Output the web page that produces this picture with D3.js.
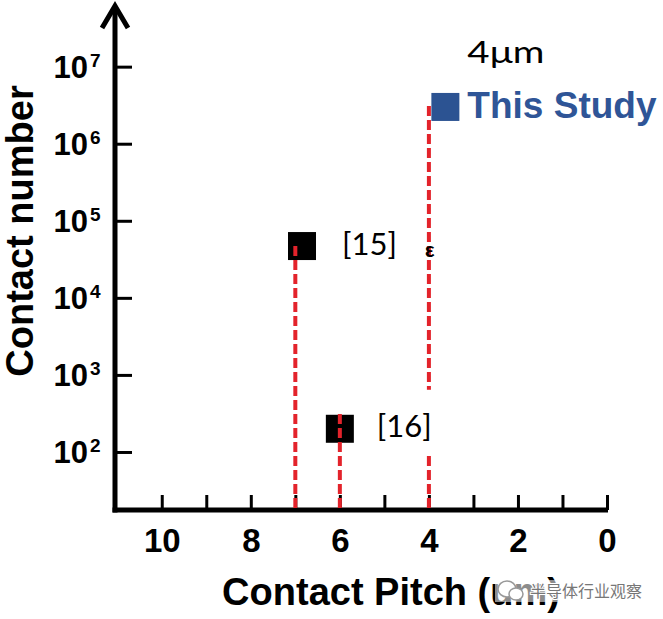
<!DOCTYPE html>
<html>
<head>
<meta charset="utf-8">
<script src="https://cdn.jsdelivr.net/npm/d3@7"></script>
<style>
  body { margin: 0; background: #fff; }
  svg { display: block; }
</style>
</head>
<body>
<div id="chart"></div>
<script>
// data
const refLabels = ["[15]", "[16]", "This Study"];
const pitch = [6.85, 6.0, 3.63];          // contact pitch (um)
const contacts = [4.7e4, 2.0e2, 3.0e6];   // contact number
const guidePitch = [7, 6, 4];             // red dashed guide lines
const guideTop = [4.9e4, 3.3e2, 3.2e6];
const xTicks = [0, 1, 2, 3, 4, 5, 6, 7, 8, 9, 10];
const xLabels = [10, 8, 6, 4, 2, 0];
const yTicks = [1e2, 1e3, 1e4, 1e5, 1e6, 1e7];
const pitchNote = "4μm";

const width = 663, height = 619;
const bold = "'Liberation Sans', Arial, sans-serif";
const light = "Lato, 'Open Sans', sans-serif";

var svg = d3.select("#chart")
  .append("svg")
    .attr("width", width)
    .attr("height", height);

// scales (x runs right to left)
var x = d3.scaleLinear().domain([11.05, 0]).range([115, 607]);
var y = d3.scaleLog().domain([Math.pow(10, 1.247), Math.pow(10, 7.8)]).range([510, 5]);

// X axis
var gx = svg.append("g")
  .attr("transform", "translate(0,510)")
  .call(d3.axisBottom(x).tickValues(xTicks).tickSize(-15).tickSizeOuter(0).tickFormat(""));
gx.select(".domain").remove();
gx.selectAll(".tick line").attr("stroke", "#000").attr("stroke-width", 3);
gx.selectAll(".tick").filter(d => xLabels.includes(d))
  .append("text")
    .attr("y", 42)
    .attr("text-anchor", "middle")
    .attr("fill", "#000")
    .style("font", "bold 33px " + bold)
    .text(d => d);

// Y axis
var gy = svg.append("g")
  .attr("transform", "translate(115,0)")
  .call(d3.axisLeft(y).tickValues(yTicks).tickSize(-17).tickSizeOuter(0).tickFormat(""));
gy.select(".domain").remove();
gy.selectAll(".tick line").attr("stroke", "#000").attr("stroke-width", 3);
gy.selectAll(".tick").append("text")
  .attr("x", -27).attr("y", 11)
  .attr("text-anchor", "end")
  .attr("fill", "#000")
  .style("font", "bold 31px " + bold)
  .text("10");
gy.selectAll(".tick").append("text")
  .attr("x", -25).attr("y", 0)
  .attr("text-anchor", "start")
  .attr("fill", "#000")
  .style("font", "bold 19px " + bold)
  .text(d => Math.round(Math.log10(d)));

// axis lines + arrow head
svg.append("line")
  .attr("x1", 112.5).attr("x2", 608)
  .attr("y1", 510).attr("y2", 510)
  .attr("stroke", "#000").attr("stroke-width", 5);
svg.append("line")
  .attr("x1", 115).attr("x2", 115)
  .attr("y1", 512.5).attr("y2", 7)
  .attr("stroke", "#000").attr("stroke-width", 5);
svg.append("path")
  .attr("d", "M102,28 L115,6 L128,28")
  .attr("fill", "none").attr("stroke", "#000").attr("stroke-width", 5);

// markers
var markerColor = ["#000", "#000", "#2c5392"];
svg.selectAll("rect.pt")
  .data(pitch)
  .join("rect")
    .attr("class", "pt")
    .attr("x", d => x(d) - 14)
    .attr("y", (d, i) => y(contacts[i]) - 14)
    .attr("width", 28)
    .attr("height", 28)
    .attr("fill", (d, i) => markerColor[i]);

// red dashed guides
svg.selectAll("line.guide")
  .data(guidePitch)
  .join("line")
    .attr("class", "guide")
    .attr("x1", d => x(d)).attr("x2", d => x(d))
    .attr("y1", 508)
    .attr("y2", (d, i) => y(guideTop[i]))
    .attr("stroke", "#e3232b")
    .attr("stroke-width", 4)
    .attr("stroke-dasharray", "10,4");

// labels next to markers
var labelDx = [40, 37, 22], labelDy = [9, 8, 11];
var labels = svg.selectAll("g.lab")
  .data(refLabels)
  .join("g")
    .attr("class", "lab")
    .attr("transform", (d, i) => "translate(" + (x(pitch[i]) + labelDx[i]) + "," + (y(contacts[i]) + labelDy[i]) + ")");
labels.append("text")
  .attr("fill", (d, i) => i === 2 ? "#2f5597" : "#000")
  .style("font", (d, i) => i === 2 ? "bold 37px " + bold : "31px " + light)
  .text(d => d);

// [16] sits on a white text box that breaks the 4um guide
var box16 = labels.filter((d, i) => i === 1);
var bw = box16.select("text").node().getComputedTextLength();
box16.insert("rect", "text")
  .attr("x", -6).attr("y", -47)
  .attr("width", bw + 14).attr("height", 63)
  .attr("fill", "#fff");

// pitch note above this study
svg.append("text")
  .attr("x", x(pitch[2]) + 22)
  .attr("y", y(contacts[2]) - 44)
  .attr("fill", "#000")
  .attr("textLength", 77)
  .attr("lengthAdjust", "spacingAndGlyphs")
  .style("font", "31px " + light)
  .text(pitchNote);

// clipped glyph left beside the 4um guide
svg.append("text")
  .attr("x", x(4) - 4).attr("y", y(contacts[0]) + 11)
  .attr("fill", "#000")
  .style("font", "bold 21px " + light)
  .text("ε");

// axis titles
svg.append("text")
  .attr("transform", "translate(33,231) rotate(-90)")
  .attr("text-anchor", "middle")
  .attr("fill", "#000")
  .style("font", "bold 38px " + bold)
  .text("Contact number");
svg.append("text")
  .attr("x", 391).attr("y", 605)
  .attr("text-anchor", "middle")
  .attr("fill", "#000")
  .style("font", "bold 38px " + bold)
  .text("Contact Pitch (um)");

// watermark
var wm = svg.append("g").attr("transform", "translate(497,578)");
wm.append("rect").attr("x", -2).attr("y", 2).attr("width", 146).attr("height", 22)
  .attr("fill", "#fff").attr("opacity", 0.55);
wm.append("ellipse").attr("cx", 10).attr("cy", 11).attr("rx", 9).attr("ry", 8)
  .attr("fill", "#fff").attr("stroke", "#999").attr("stroke-width", 1.5);
wm.append("ellipse").attr("cx", 19).attr("cy", 16).attr("rx", 7).attr("ry", 6)
  .attr("fill", "#fff").attr("stroke", "#999").attr("stroke-width", 1.5);
wm.append("text")
  .attr("x", 33).attr("y", 19)
  .attr("fill", "#777")
  .attr("stroke", "#fff").attr("stroke-width", 2)
  .attr("paint-order", "stroke")
  .style("font", "16px 'Noto Sans CJK SC', sans-serif")
  .text("半导体行业观察");
</script>
</body>
</html>
